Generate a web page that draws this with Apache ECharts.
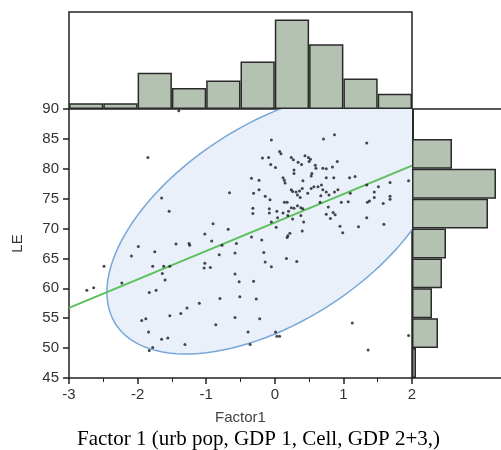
<!DOCTYPE html>
<html>
<head>
<meta charset="utf-8">
<script src="https://cdn.jsdelivr.net/npm/echarts@6/dist/echarts.min.js"></script>
<style>
  body { margin: 0; background: #fff; }
  #main { width: 501px; height: 450px; }
</style>
</head>
<body>
<div id="main"></div>
<script>
// scatter points (Factor1, LE)
const factor1 = [
  -1.40, -1.85, -1.65, -0.66, -1.54, -0.90, -0.68, -1.02, -0.92, -0.77,
  -0.56, -1.25, -1.24, -1.44, -1.99, -1.75, -2.09, -0.81, -0.58, -2.49,
  -1.78, -1.62, -1.53, -1.02, -1.03, -0.94, -1.64, -0.58, -1.60, -0.52,
  -2.23, -2.64, -2.74, -1.73, -1.83, -1.94, -1.88, -1.84, -1.65, -1.56,
  -1.83, -1.78, -1.53, -1.37, -1.28, -1.10, -1.31, -0.80, -0.51, -0.86,
  -0.58,
  -0.27, -0.22, -0.39, -0.36, 0.01, 0.03, 0.07, 1.13, 1.36, 1.95, -0.31,
  -0.05, 0.71, 0.87, 1.34, 0.07, 0.09, -0.18, -0.09, -0.06, 0.01,
  0.24, 0.27, 0.34, 0.39, 0.44, 0.49, 0.52, 0.50, 0.59, 0.60,
  0.54, 0.70, 0.75, 0.84, 0.91, 0.28, 0.28, 0.12, 0.14, 0.41,
  0.53, 0.75, 0.86, 1.09, 1.17, -0.34, -0.23, -0.31, -0.23, -0.14,
  0.15, 0.40, 0.36, 0.33, 0.24, 0.26, 0.31, 0.53, 0.57, 0.63,
  0.68, 0.70, 0.75, 0.79, 0.87, 0.92, 0.67, 0.48, 1.10, 1.34,
  1.45, 1.51, 1.68, 1.68, 1.68, 1.95, 1.45,
  -0.07, 0.14, 0.18, 0.37, 0.66, 0.97, 1.07, 1.35, 1.38, 1.58,
  -0.32, -0.32, -0.08, -0.08, 0.03, 0.12, 0.20, 0.24, 0.28, 0.33,
  0.38, 0.41, 0.19, 0.26, 0.38, 0.04, -0.05, 0.42, 0.78, 0.75,
  0.81, 0.85, 0.88, 1.34, 0.02, 0.40, 0.95, 1.22, 1.59, 0.99,
  -0.34, -0.19, 0.19, 0.18, 0.22, -0.16, 0.17, 0.32, -0.14, -0.05
];
const le = [
  89.7, 81.9, 75.1, 76.0, 72.9, 70.8, 69.9, 69.1, 67.9, 67.2,
  67.5, 67.5, 67.2, 67.4, 67.0, 66.1, 65.4, 65.6, 65.9, 63.7,
  63.7, 63.7, 63.7, 64.2, 63.4, 63.5, 62.5, 62.4, 61.4, 61.1,
  60.9, 60.1, 59.7, 59.7, 59.3, 54.6, 54.9, 52.7, 51.5, 51.7,
  49.6, 50.1, 55.4, 55.8, 56.7, 57.5, 50.6, 58.3, 58.6, 53.9,
  55.1,
  58.2, 54.9, 52.7, 50.6, 52.7, 52.0, 52.0, 54.2, 49.7, 52.1, 61.2,
  84.8, 85.0, 85.7, 84.3, 82.9, 82.5, 81.8, 81.9, 80.7, 80.2,
  81.9, 81.5, 81.1, 80.7, 82.2, 81.9, 81.6, 81.2, 80.6, 80.1,
  79.2, 80.1, 80.0, 80.3, 81.2, 79.8, 79.2, 78.5, 78.1, 78.0,
  78.8, 78.5, 78.5, 78.5, 78.7, 78.4, 78.1, 75.9, 76.5, 75.4,
  77.6, 76.7, 76.3, 75.6, 76.5, 76.2, 76.1, 76.7, 77.0, 77.0,
  77.3, 76.5, 76.1, 75.6, 76.1, 76.5, 75.5, 75.9, 75.9, 77.3,
  76.1, 77.0, 77.7, 75.4, 74.9, 78.0, 75.2,
  74.8, 74.4, 74.4, 75.2, 74.4, 74.4, 74.5, 74.4, 74.6, 74.2,
  73.4, 72.5, 73.3, 72.6, 72.9, 72.6, 72.9, 73.5, 73.4, 73.8,
  73.5, 73.3, 72.2, 71.6, 72.2, 71.8, 71.1, 71.1, 73.6, 72.4,
  71.7, 72.7, 72.3, 71.8, 70.2, 69.6, 70.4, 70.3, 70.7, 69.3,
  68.6, 68.1, 68.8, 68.5, 69.2, 66.0, 65.0, 64.5, 64.4, 63.6
];

// marginal histograms
const factorBins = ['-3', '-2.5', '-2', '-1.5', '-1', '-0.5', '0', '0.5', '1', '1.5'];
const factorCounts = [3, 3, 19, 11, 15, 25, 47, 34, 16, 8];
const leBins = ['45', '50', '55', '60', '65', '70', '75', '80', '85'];
const leCounts = [2, 13, 10, 15, 17, 38, 42, 20, 1];

// bivariate normal fit (95% density ellipse)
const meanX = 0, meanY = 71.0;
const sdX = 1.0, sdY = 8.98;
const corr = 0.53;
const chi2 = 5.991;

const slope = corr * sdY / sdX;
const intercept = meanY - slope * meanX;

const points = factor1.map((x, i) => [x, le[i]]);

const chart = echarts.init(document.getElementById('main'));

const axisColor = '#222';
const labelFont = { fontFamily: 'Liberation Sans', fontSize: 15, color: '#333' };
const plainLine = { show: true, onZero: false, lineStyle: { color: axisColor, width: 1.5 } };

chart.setOption({
  animation: false,
  title: {
    text: 'Factor 1 (urb pop, GDP 1, Cell, GDP 2+3,)',
    left: 72,
    top: 424,
    textStyle: { fontFamily: 'Liberation Serif', fontSize: 21, fontWeight: 'normal', color: '#000' }
  },
  grid: [
    { left: 69, top: 109, width: 343, height: 269 },
    { left: 69, top: 12, width: 343, height: 97, show: true, borderColor: axisColor, borderWidth: 1.5, backgroundColor: 'transparent' },
    { left: 412, top: 109, width: 89, height: 269 }
  ],
  xAxis: [
    {
      gridIndex: 0, type: 'value', min: -3, max: 2, interval: 1,
      name: 'Factor1', nameLocation: 'middle', nameGap: 32,
      nameTextStyle: { fontFamily: 'Liberation Sans', fontSize: 15, color: '#444' },
      axisLine: plainLine,
      axisTick: { length: 6, lineStyle: { color: axisColor, width: 1.5 } },
      minorTick: { show: true, splitNumber: 2, length: 4, lineStyle: { color: axisColor, width: 1 } },
      axisLabel: Object.assign({ margin: 9 }, labelFont),
      splitLine: { show: false }
    },
    { gridIndex: 1, type: 'category', data: factorBins, show: false },
    {
      gridIndex: 2, type: 'value', min: 0, max: 44.5, position: 'top',
      axisLine: plainLine, axisTick: { show: false }, axisLabel: { show: false }, splitLine: { show: false }
    },
    {
      gridIndex: 2, type: 'value', min: 0, max: 44.5, position: 'bottom',
      axisLine: plainLine, axisTick: { show: false }, axisLabel: { show: false }, splitLine: { show: false }
    }
  ],
  yAxis: [
    {
      gridIndex: 0, type: 'value', min: 45, max: 90, interval: 5,
      name: 'LE', nameLocation: 'middle', nameGap: 44, nameRotate: 90,
      nameTextStyle: { fontFamily: 'Liberation Sans', fontSize: 15, color: '#333' },
      axisLine: plainLine,
      axisTick: { show: true, length: 6, lineStyle: { color: axisColor, width: 1.5 } },
      axisLabel: Object.assign({ margin: 10 }, labelFont),
      splitLine: { show: false }
    },
    { gridIndex: 1, type: 'value', min: 0, max: 51, show: false },
    {
      gridIndex: 2, type: 'category', data: leBins,
      axisLine: plainLine, axisTick: { show: false }, axisLabel: { show: false }
    }
  ],
  series: [
    {
      // density ellipse
      type: 'custom',
      xAxisIndex: 0, yAxisIndex: 0,
      clip: true,
      silent: true,
      data: [[meanX, meanY]],
      z: 1,
      renderItem: function (params, api) {
        const k = Math.sqrt(chi2);
        const pts = [];
        for (let i = 0; i < 120; i++) {
          const t = i / 120 * Math.PI * 2;
          const x = meanX + k * sdX * Math.cos(t);
          const y = meanY + k * sdY * (corr * Math.cos(t) + Math.sqrt(1 - corr * corr) * Math.sin(t));
          pts.push(api.coord([x, y]));
        }
        const cs = params.coordSys;
        return {
          type: 'polygon',
          shape: { points: pts },
          style: { fill: '#e9f0fa', stroke: '#7aa7d8', lineWidth: 1.5 },
          clipPath: { type: 'rect', shape: { x: cs.x, y: cs.y, width: cs.width, height: cs.height } }
        };
      }
    },
    {
      // regression line
      type: 'line',
      xAxisIndex: 0, yAxisIndex: 0,
      data: [[-3, intercept + slope * -3], [2, intercept + slope * 2]],
      showSymbol: false,
      lineStyle: { color: '#5cbf5c', width: 2 },
      z: 2
    },
    {
      type: 'scatter',
      xAxisIndex: 0, yAxisIndex: 0,
      data: points,
      symbolSize: 3,
      itemStyle: { color: '#1a1a1a' },
      z: 3
    },
    {
      type: 'bar',
      xAxisIndex: 1, yAxisIndex: 1,
      data: factorCounts,
      barCategoryGap: '0%',
      itemStyle: { color: '#b4c3b1', borderColor: '#2a2a2a', borderWidth: 1.5 }
    },
    {
      type: 'bar',
      xAxisIndex: 2, yAxisIndex: 2,
      data: leCounts,
      barCategoryGap: '0%',
      itemStyle: { color: '#b4c3b1', borderColor: '#2a2a2a', borderWidth: 1.5 }
    }
  ]
});
</script>
</body>
</html>
